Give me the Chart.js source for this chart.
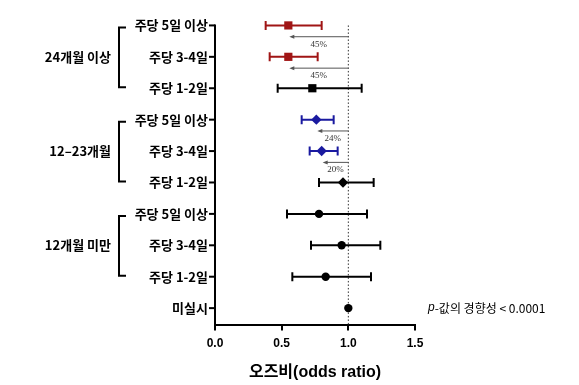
<!DOCTYPE html>
<html>
<head>
<meta charset="utf-8">
<script src="https://cdn.jsdelivr.net/npm/chart.js@4"></script>
<style>
  html, body { margin: 0; padding: 0; background: #fff; }
  #wrap { width: 579px; height: 385px; }
</style>
</head>
<body>
<div id="wrap"><canvas id="chartOR" width="579" height="385"></canvas></div>
<script>
// ── datos ──
const rowLabels = ["주당 5일 이상", "주당 3-4일", "주당 1-2일",
                   "주당 5일 이상", "주당 3-4일", "주당 1-2일",
                   "주당 5일 이상", "주당 3-4일", "주당 1-2일", "미실시"];
const groupLabels = ["24개월 이상", "12–23개월", "12개월 미만"];
const groupRows = [[0, 2], [3, 5], [6, 8]];
const oddsRatio = [0.55, 0.55, 0.73, 0.76, 0.80, 0.96, 0.78, 0.95, 0.83, 1.0];
const ciLow     = [0.38, 0.41, 0.47, 0.65, 0.71, 0.78, 0.54, 0.72, 0.58, 1.0];
const ciHigh    = [0.80, 0.77, 1.10, 0.89, 0.92, 1.19, 1.14, 1.24, 1.17, 1.0];
const reductionRows = [0, 1, 3, 4];
const reductionText = ["45%", "45%", "24%", "20%"];
const xTicks = [0, 0.5, 1.0, 1.5];
const pText = "값의 경향성 < 0.0001";

const RED = "#a01515", BLUE = "#1a1aa0", BLACK = "#000";
const rowColors = [RED, RED, BLACK, BLUE, BLUE, BLACK, BLACK, BLACK, BLACK, BLACK];
const rowShapes = ["rect", "rect", "rect", "rectRot", "rectRot", "rectRot",
                   "circle", "circle", "circle", "circle"];
const shapeRadius = { rect: 5.8, rectRot: 5.2, circle: 4.2 };

const KFONT = "'Noto Sans CJK KR', 'Liberation Sans', sans-serif";

// ── barras de error, flechas, etiquetas ──
const forestPlugin = {
    id: "forest",
    beforeDatasetsDraw(chart) {
        const { ctx, scales: { x, y }, chartArea } = chart;
        ctx.save();
        // línea punteada en OR = 1
        ctx.strokeStyle = "#333";
        ctx.lineWidth = 1;
        ctx.setLineDash([1.5, 2]);
        ctx.beginPath();
        ctx.moveTo(x.getPixelForValue(1), y.getPixelForValue(0));
        ctx.lineTo(x.getPixelForValue(1), chartArea.bottom);
        ctx.stroke();
        ctx.setLineDash([]);

        // intervalos de confianza
        oddsRatio.forEach((v, i) => {
            if (ciLow[i] === ciHigh[i]) return;
            const py = y.getPixelForValue(i);
            const x1 = x.getPixelForValue(ciLow[i]), x2 = x.getPixelForValue(ciHigh[i]);
            ctx.strokeStyle = rowColors[i];
            ctx.lineWidth = 2;
            ctx.beginPath();
            ctx.moveTo(x1, py); ctx.lineTo(x2, py);
            ctx.moveTo(x1, py - 4.5); ctx.lineTo(x1, py + 4.5);
            ctx.moveTo(x2, py - 4.5); ctx.lineTo(x2, py + 4.5);
            ctx.stroke();
        });

        // flechas de reducción
        reductionRows.forEach((r, k) => {
            const ay = y.getPixelForValue(r + 0.36);
            const xs = x.getPixelForValue(1), xe = x.getPixelForValue(oddsRatio[r]) + 1;
            ctx.strokeStyle = "#555";
            ctx.fillStyle = "#555";
            ctx.lineWidth = 1;
            ctx.beginPath();
            ctx.moveTo(xs, ay); ctx.lineTo(xe + 3, ay);
            ctx.stroke();
            ctx.beginPath();
            ctx.moveTo(xe, ay); ctx.lineTo(xe + 5, ay - 2); ctx.lineTo(xe + 5, ay + 2);
            ctx.closePath(); ctx.fill();
            ctx.fillStyle = "#333";
            ctx.font = "9px 'Liberation Serif', 'DejaVu Serif', serif";
            ctx.textAlign = "center";
            ctx.textBaseline = "middle";
            ctx.fillText(reductionText[k], (xs + xe) / 2, ay + 7.5);
        });
        ctx.restore();
    },
    afterDraw(chart) {
        const { ctx, scales: { x, y }, chartArea } = chart;
        ctx.save();
        const axisX = chartArea.left;
        const yTop = y.getPixelForValue(0);
        // eje Y
        ctx.strokeStyle = "#000";
        ctx.lineWidth = 2;
        ctx.beginPath();
        ctx.moveTo(axisX, yTop - 1);
        ctx.lineTo(axisX, chartArea.bottom + 1);
        ctx.stroke();

        ctx.fillStyle = "#000";
        ctx.font = "bold 13px " + KFONT;
        ctx.textAlign = "right";
        ctx.textBaseline = "middle";
        rowLabels.forEach((lab, i) => {
            const py = y.getPixelForValue(i);
            ctx.beginPath();
            ctx.moveTo(axisX - 6, py); ctx.lineTo(axisX, py);
            ctx.stroke();
            ctx.fillText(lab, axisX - 7, py);
        });

        // llaves de grupo
        groupRows.forEach(([a, b], g) => {
            const y1 = y.getPixelForValue(a) + 2, y2 = y.getPixelForValue(b) - 1;
            ctx.beginPath();
            ctx.moveTo(126, y1); ctx.lineTo(119, y1);
            ctx.lineTo(119, y2); ctx.lineTo(126, y2);
            ctx.stroke();
            ctx.fillText(groupLabels[g], 111, y.getPixelForValue((a + b) / 2));
        });

        // p para tendencia
        ctx.textAlign = "left";
        const py = y.getPixelForValue(9);
        ctx.font = "italic 12px 'Liberation Sans', sans-serif";
        ctx.fillText("p", 428, py);
        const pw = ctx.measureText("p").width;
        ctx.font = "12px " + KFONT;
        ctx.fillText("-" + pText, 428 + pw, py);
        ctx.restore();
    }
};

new Chart(document.getElementById("chartOR"), {
    type: "scatter",
    data: {
        datasets: [{
            data: oddsRatio.map((v, i) => ({ x: v, y: i })),
            pointStyle: rowShapes,
            pointRadius: rowShapes.map(s => shapeRadius[s]),
            pointHoverRadius: rowShapes.map(s => shapeRadius[s]),
            backgroundColor: rowColors,
            borderColor: rowColors,
            borderWidth: 0,
            clip: false
        }]
    },
    plugins: [forestPlugin],
    options: {
        responsive: false,
        animation: false,
        events: [],
        layout: { padding: { left: 215, right: 164, top: 16, bottom: 3 } },
        plugins: { legend: { display: false }, tooltip: { enabled: false } },
        scales: {
            x: {
                type: "linear",
                min: 0, max: 1.5,
                afterBuildTicks: s => { s.ticks = xTicks.map(v => ({ value: v })); },
                ticks: {
                    color: "#000",
                    padding: 6,
                    font: { family: "'Liberation Sans', sans-serif", size: 12, weight: "bold" },
                    callback: v => Number(v).toFixed(1)
                },
                grid: { drawOnChartArea: false, drawTicks: true, tickLength: 5, color: "#000", lineWidth: 2 },
                border: { color: "#000", width: 2 },
                title: {
                    display: true,
                    text: "오즈비(odds ratio)",
                    color: "#000",
                    padding: { top: 6, bottom: 0 },
                    font: { family: "'Liberation Sans', 'Noto Sans CJK KR', sans-serif", size: 16, weight: "bold" }
                }
            },
            y: {
                type: "linear",
                reverse: true,
                min: -0.3, max: 9.55,
                display: false
            }
        }
    }
});
</script>
</body>
</html>
